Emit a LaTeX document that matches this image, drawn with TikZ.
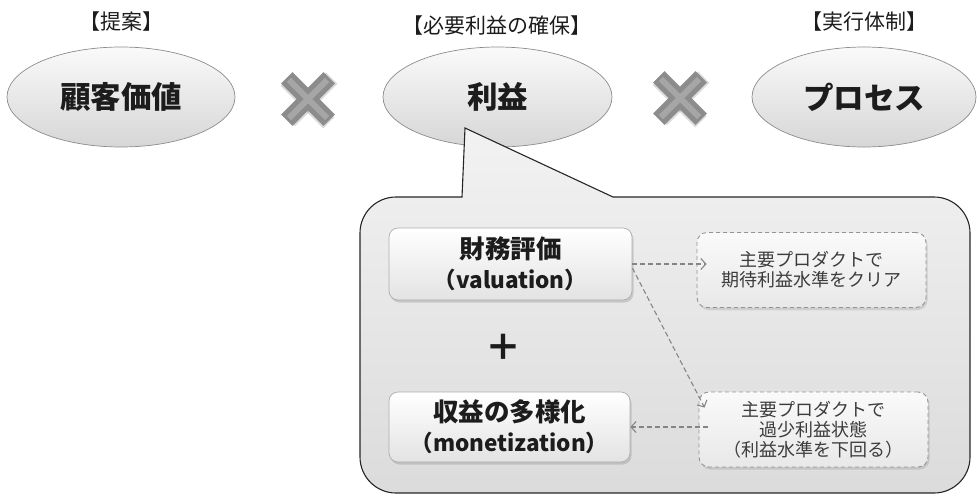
\documentclass[tikz,border=0pt]{standalone}
\usepackage{fontspec}
\setmainfont{Noto Sans CJK JP}
\usetikzlibrary{shapes.geometric,arrows.meta,shadows,calc}
\definecolor{ink}{HTML}{1C1C1C}
\definecolor{soft}{HTML}{3C3C3C}
\definecolor{rim}{HTML}{8C8C8C}
\definecolor{xgray}{HTML}{8C8C8C}
\definecolor{xlight}{HTML}{A6A6A6}
\begin{document}
\begin{tikzpicture}[x=1pt,y=1pt,
  toplabel/.style={font=\fontsize{21}{24}\selectfont, text=ink, inner sep=0pt},
  oval/.style={ellipse, draw=rim, line width=0.7pt, top color=gray!4, bottom color=gray!32,
    minimum height=100pt, inner sep=0pt, font=\fontsize{30.5}{36}\selectfont\bfseries, text=ink},
  bubble/.style={draw=black!85, line width=1.1pt, top color=gray!10, bottom color=gray!28},
  mainbox/.style={rectangle, rounded corners=9pt, draw=black!32, line width=0.7pt,
    top color=white, bottom color=gray!22, align=center, inner sep=0pt,
    drop shadow={shadow xshift=1.5pt, shadow yshift=-2.5pt, opacity=0.3},
    font=\fontsize{25.5}{30}\selectfont\bfseries, text=ink},
  notebox/.style={rectangle, rounded corners=10pt, draw=black!42, dash pattern=on 4pt off 3pt,
    line width=0.9pt, top color=gray!4, bottom color=gray!18, align=center, inner sep=0pt,
    minimum width=229pt, minimum height=75pt,
    drop shadow={shadow xshift=1.5pt, shadow yshift=-2.5pt, opacity=0.25},
    font=\fontsize{18}{20}\selectfont, text=soft},
  arr/.style={draw=black!48, dash pattern=on 5pt off 3pt, line width=1.1pt,
    -{Straight Barb[length=5pt,width=11pt]}},
  crossmark/.pic={
    \foreach \a in {45,-45}{
      \fill[black, opacity=0.15, rotate=\a, shift={(1.5,-2)}] (-30,-8) rectangle (30,8);
    }
    \foreach \a in {45,-45}{
      \fill[xgray, rotate=\a] (-30,-8) rectangle (30,8);
    }
    \foreach \a in {45,-45}{
      \fill[xlight, rotate=\a] (-27,-3) rectangle (27,3);
    }
  }]
\useasboundingbox (0,0) rectangle (977,-496);

% top labels
\node[toplabel] (l1) at (121,-22) {【提案】};
\node[toplabel] (l2) at (497,-26) {【必要利益の確保】};
\node[toplabel] (l3) at (864,-22) {【実行体制】};

% ovals
\node[oval, minimum width=228pt] (e1) at (121,-97) {顧客価値};
\node[oval, minimum width=229pt] (e2) at (497.5,-97) {利益};
\node[oval, minimum width=224pt] (e3) at (864,-97) {プロセス};

% multiplication marks
\pic (x1) at (308,-99) {crossmark};
\pic (x2) at (680,-98) {crossmark};

% callout bubble
\draw[bubble] (465,-128) -- (462,-197) -- (396,-197)
  arc[start angle=90, end angle=180, radius=36] -- (360,-457)
  arc[start angle=180, end angle=270, radius=36] -- (934,-493)
  arc[start angle=270, end angle=360, radius=36] -- (970,-233)
  arc[start angle=0, end angle=90, radius=36] -- (613,-197) -- cycle;

% inner boxes
\node[mainbox, minimum width=243pt, minimum height=72pt] (b1) at (510.5,-264)
  {財務評価\\{\fontsize{22.5}{30}\selectfont（valuation）}};
\node[mainbox, minimum width=241pt, minimum height=70pt] (b2) at (509.5,-427)
  {収益の多様化\\{\fontsize{22.5}{30}\selectfont（monetization）}};
\node[font=\fontsize{36}{40}\selectfont\bfseries, text=ink, inner sep=0pt] (plus) at (503,-347) {＋};

\node[notebox] (d1) at (811.5,-270) {主要プロダクトで\\期待利益水準をクリア};
\node[notebox] (d2) at (813.5,-429.5) {主要プロダクトで\\過少利益状態\\（利益水準を下回る）};

% connectors
\draw[arr] (b1.east) -- ($(d1.west |- b1.east)+(10,0)$);
\draw[arr] ($(b1.east)+(0,-4)$) -- ($(d2.north west)+(6,-16)$);
\draw[arr] ($(d2.west |- b2.east)+(9,0)$) -- (b2.east);
\end{tikzpicture}
\end{document}
